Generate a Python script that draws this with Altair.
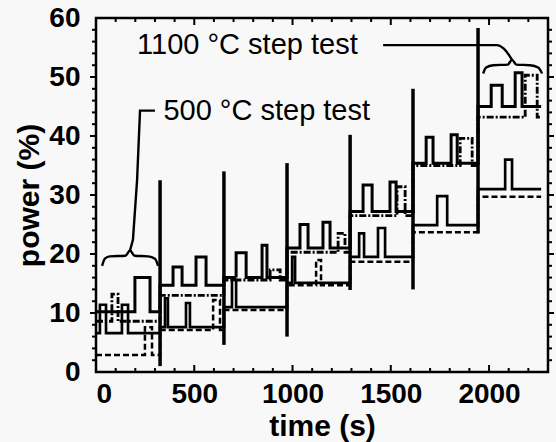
import altair as alt
import pandas as pd

# time at which each power step begins (s); the last step runs to step_end
step_start = [0, 326, 651, 972, 1293, 1613, 1944]
step_end = 2265

# base power (%) held during each step, one list per trace
hi_solid_level = [10.2, 14.7, 16.0, 21.0, 27.2, 35.4, 45.0]
hi_dashdot_level = [8.6, 13.0, 15.6, 20.3, 26.5, 35.0, 43.2]
lo_solid_level = [6.6, 7.6, 11.0, 15.1, 19.5, 24.9, 31.0]
lo_dash_level = [2.9, 7.1, 10.5, 14.7, 18.7, 23.7, 29.7]

# short power pulses inside the steps: start (s), end (s), pulse power (%)
hi_solid_on = [198, 392, 509, 713, 845, 1038, 1155, 1359, 1496, 1680, 1807, 2011, 2133]
hi_solid_off = [275, 438, 560, 764, 870, 1079, 1191, 1405, 1527, 1715, 1838, 2067, 2168]
hi_solid_top = [16.0, 17.8, 19.5, 20.2, 21.5, 25.0, 25.4, 31.7, 32.2, 39.8, 40.2, 48.6, 50.7]

hi_dashdot_on = [81, 886, 1232, 1532, 1853, 2184]
hi_dashdot_off = [112, 937, 1267, 1573, 1914, 2245]
hi_dashdot_top = [13.2, 17.3, 23.5, 31.4, 39.6, 50.3]

lo_solid_on = [20, 132, 351, 458, 692, 998, 1339, 1435, 1736, 2082]
lo_solid_off = [51, 163, 366, 478, 713, 1013, 1364, 1471, 1787, 2117]
lo_solid_top = [11.4, 11.4, 12.5, 11.7, 15.6, 19.5, 23.5, 24.4, 29.8, 36.0]

lo_dash_on = [249, 596, 1120]
lo_dash_off = [285, 631, 1145]
lo_dash_top = [7.6, 12.2, 19.0]

# transient spikes at each step change: time (s), bottom and top power (%)
spike_t = [326, 651, 972, 1293, 1613, 1944]
spike_low = [1.0, 4.6, 6.0, 13.9, 14.0, 23.5]
spike_high = [32.5, 34.0, 35.4, 40.2, 48.0, 58.3]

# annotation braces and leaders, (time, power) vertices
brace500_t = [31, 45, 71, 150, 173, 196, 265, 300, 316]
brace500_p = [18.0, 19.2, 19.6, 19.7, 20.6, 19.7, 19.6, 19.2, 18.0]
leader500_t = [300, 224, 209, 188, 173]
leader500_p = [44.3, 44.3, 32.5, 22.4, 20.6]
brace1100_t = [1970, 1985, 2021, 2095, 2117, 2139, 2209, 2250, 2270]
brace1100_p = [50.6, 51.6, 52.0, 52.1, 52.9, 52.1, 52.0, 51.6, 50.6]
leader1100_t = [1461, 2040, 2075, 2100, 2117]
leader1100_p = [55.4, 55.4, 54.8, 53.8, 52.9]

label_text = ["1100 °C step test", "500 °C step test"]
label_t = [209, 343]
label_p = [55.4, 44.2]

FONT = "Liberation Sans"
W, H = 452, 354
X_DOMAIN = [0, 2300]
Y_DOMAIN = [0, 60]

xs = alt.Scale(domain=X_DOMAIN, nice=False, zero=False)
ys = alt.Scale(domain=Y_DOMAIN, nice=False)


def trace(name, levels, on, off, top):
    rows = []
    for i, s in enumerate(step_start):
        e = step_start[i + 1] if i + 1 < len(step_start) else step_end
        rows.append((s, levels[i]))
        for a, b, h in zip(on, off, top):
            if s <= a < e:
                rows.append((a, h))
                rows.append((b, levels[i]))
    rows.append((step_end, levels[-1]))
    return pd.DataFrame(
        {"t": [r[0] for r in rows], "p": [r[1] for r in rows],
         "trace": name, "i": range(len(rows))}
    )


traces = pd.concat([
    trace("lo_dash", lo_dash_level, lo_dash_on, lo_dash_off, lo_dash_top),
    trace("lo_solid", lo_solid_level, lo_solid_on, lo_solid_off, lo_solid_top),
    trace("hi_dashdot", hi_dashdot_level, hi_dashdot_on, hi_dashdot_off, hi_dashdot_top),
    trace("hi_solid", hi_solid_level, hi_solid_on, hi_solid_off, hi_solid_top),
], ignore_index=True)

names = ["hi_solid", "hi_dashdot", "lo_solid", "lo_dash"]

lines = alt.Chart(traces).mark_line(interpolate="step-after", color="black").encode(
    x=alt.X("t:Q", scale=xs,
            axis=alt.Axis(title="time (s)", values=[0, 500, 1000, 1500, 2000],
                          format="d", ticks=False, domain=False, grid=False,
                          labelPadding=8, titlePadding=3)),
    y=alt.Y("p:Q", scale=ys,
            axis=alt.Axis(title="power (%)", values=[0, 10, 20, 30, 40, 50, 60],
                          ticks=False, domain=False, grid=False, labelPadding=16,
                          titlePadding=4)),
    strokeDash=alt.StrokeDash("trace:N", legend=None, scale=alt.Scale(
        domain=names, range=[[1, 0], [7, 2, 2, 2], [1, 0], [6, 3]])),
    strokeWidth=alt.StrokeWidth("trace:N", legend=None, scale=alt.Scale(
        domain=names, range=[3, 2.5, 2.5, 2.5])),
    order="i:Q",
)

spikes = alt.Chart(pd.DataFrame({"t": spike_t, "lo": spike_low, "hi": spike_high})).mark_rule(
    color="black", strokeWidth=3.5
).encode(x=alt.X("t:Q", scale=xs), y=alt.Y("lo:Q", scale=ys), y2="hi:Q")


def path(t, p, interp):
    return alt.Chart(pd.DataFrame({"t": t, "p": p, "k": range(len(t))})).mark_line(
        color="black", strokeWidth=2.4, interpolate=interp
    ).encode(x=alt.X("t:Q", scale=xs), y=alt.Y("p:Q", scale=ys), order="k:Q")


brace500 = path(brace500_t, brace500_p, "monotone")
leader500 = path(leader500_t, leader500_p, "linear")
brace1100 = path(brace1100_t, brace1100_p, "monotone")
leader1100 = path(leader1100_t, leader1100_p, "monotone")

labels = alt.Chart(pd.DataFrame({"t": label_t, "p": label_p, "s": label_text})).mark_text(
    align="left", baseline="middle", font=FONT, fontSize=29, color="black"
).encode(x=alt.X("t:Q", scale=xs), y=alt.Y("p:Q", scale=ys), text="s:N")

# frame tick marks: time ticks point into the plot, power ticks point outward
x_minor = [v for v in range(100, 2300, 100) if v % 500]
x_major = [500, 1000, 1500, 2000]
y_minor = [v for v in range(2, 60, 2) if v % 10]
y_major = [10, 20, 30, 40, 50]


def xticks(vals, ln):
    d = pd.DataFrame({"t": vals})
    bot = alt.Chart(d).mark_rule(color="black", strokeWidth=2).encode(
        x=alt.X("t:Q", scale=xs), y=alt.value(H), y2=alt.value(H - ln))
    top = alt.Chart(d).mark_rule(color="black", strokeWidth=2).encode(
        x=alt.X("t:Q", scale=xs), y=alt.value(0), y2=alt.value(ln))
    return bot + top


def yticks(vals, ln):
    d = pd.DataFrame({"p": vals})
    left = alt.Chart(d).mark_rule(color="black", strokeWidth=2).encode(
        y=alt.Y("p:Q", scale=ys), x=alt.value(0), x2=alt.value(-ln))
    right = alt.Chart(d).mark_rule(color="black", strokeWidth=2).encode(
        y=alt.Y("p:Q", scale=ys), x=alt.value(W), x2=alt.value(W + ln))
    return left + right


chart = alt.layer(
    xticks(x_minor, 4), xticks(x_major, 7), yticks(y_minor, 4), yticks(y_major, 6),
    lines, spikes, brace500, leader500, brace1100, leader1100, labels,
).properties(
    width=W, height=H, background="#f8f8f8",
    autosize=alt.AutoSizeParams(type="none"),
    padding={"left": 96, "top": 18, "right": 8, "bottom": 70},
).configure_view(
    stroke="black", strokeWidth=2.5
).configure_axis(
    labelFont=FONT, labelFontSize=28, labelFontWeight="bold", labelColor="black",
    titleFont=FONT, titleFontSize=30, titleFontWeight="bold", titleColor="black",
)

chart.save("out.html", embed_options={"renderer": "svg", "actions": False})
